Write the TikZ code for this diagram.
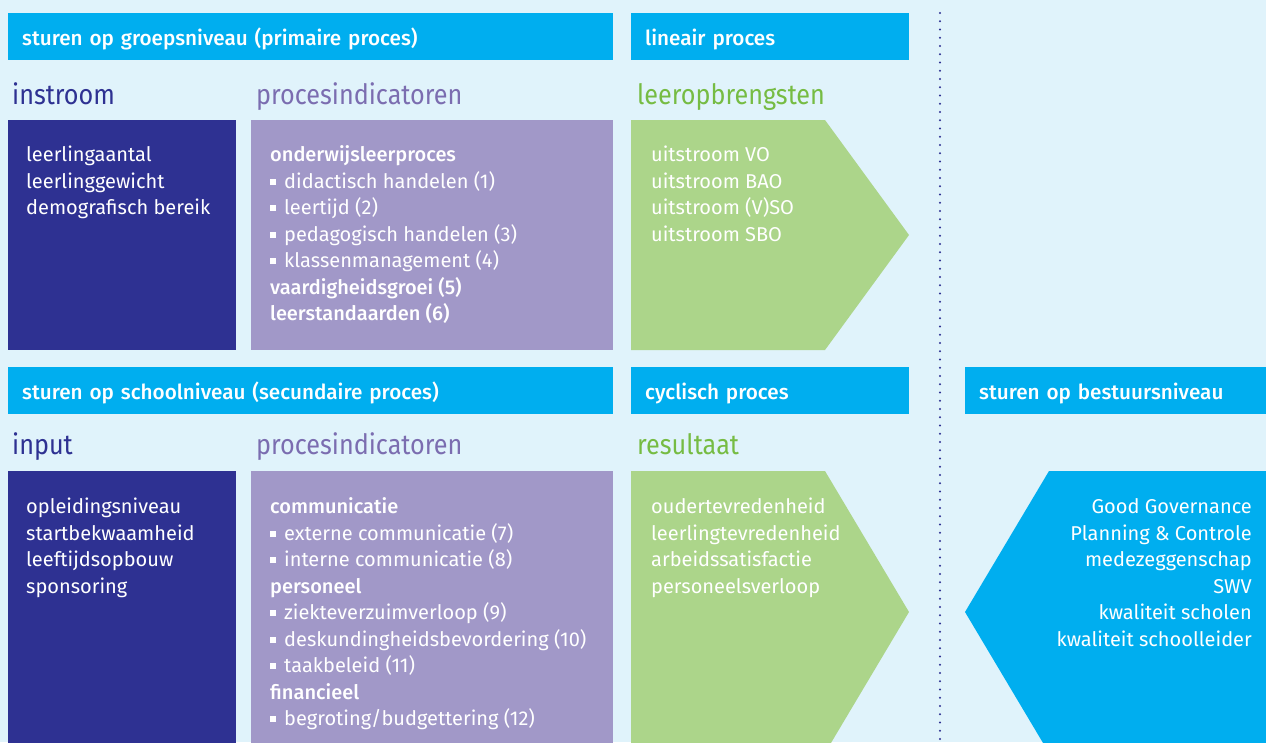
\documentclass[tikz,border=0pt]{standalone}
\usepackage{fontspec}
\setmainfont{Fira Sans}[BoldFont={Fira Sans Medium}]
\newfontfamily\labelfamilie{Fira Sans}[FakeStretch=0.9]
\usetikzlibrary{positioning}

\definecolor{achtergrond}{HTML}{E0F3FB}
\definecolor{kopblauw}{HTML}{00AEEF}
\definecolor{marine}{HTML}{2E3192}
\definecolor{paars}{HTML}{A198C8}
\definecolor{paarstekst}{HTML}{7B6DB0}
\definecolor{groen}{HTML}{ACD58A}
\definecolor{groentekst}{HTML}{76BC43}

\newcommand{\kopfont}{\bfseries\fontsize{20.7}{22}\selectfont}
\newcommand{\labelfont}{\labelfamilie\fontsize{28}{30}\selectfont}
\newcommand{\tekstfont}{\fontsize{20}{26}\selectfont}
\newcommand{\blok}{\rule[3.3pt]{6pt}{6pt}\hspace{8pt}}

\begin{document}
\begin{tikzpicture}[x=1pt,y=-1pt,
  kop/.style={fill=kopblauw, text=white, font=\kopfont, anchor=north west,
    inner sep=0pt, inner xsep=14pt, minimum height=47pt,
    text height=18pt, text depth=0pt, align=left},
  label/.style={anchor=base west, font=\labelfont, inner sep=0pt},
  vlak/.style={anchor=north west, inner sep=0pt},
  regel/.style={anchor=base west, font=\tekstfont, text=white, inner sep=0pt}]
\clip (0,0) rectangle (1266,742);
\fill[achtergrond] (0,0) rectangle (1266,742);

% koppen
\node[kop, text width=577pt] (kopgroep) at (8,13) {sturen op groepsniveau (primaire proces)};
\node[kop, text width=250pt] (koplineair) at (631,13) {lineair proces};
\node[kop, text width=577pt] (kopschool) at (8,367) {sturen op schoolniveau (secundaire proces)};
\node[kop, text width=250pt] (kopcyclisch) at (631,367) {cyclisch proces};
\node[kop, text width=273pt] (kopbestuur) at (965,367) {sturen op bestuursniveau};

% scheidingslijn
\draw[marine, line width=2.4pt, line cap=round, dash pattern=on 0pt off 8.25pt] (940,13) -- (940,742);

% groepsniveau
\node[label, text=marine] (instroom) at (12,104) {instroom};
\node[label, text=paarstekst] (proces1) at (256,104) {procesindicatoren};
\node[label, text=groentekst] (opbrengst) at (637,104) {leeropbrengsten};
\node[vlak, fill=marine, minimum width=228pt, minimum height=230pt] (instroomvlak) at (8,120) {};
\node[vlak, fill=paars, minimum width=362pt, minimum height=230pt] (proces1vlak) at (251,120) {};
\fill[groen] (631,120) -- (825,120) -- (909,235) -- (825,350) -- (631,350) -- cycle;

\foreach \t [count=\i from 0] in {leerlingaantal, leerlinggewicht, demografisch bereik}
  \node[regel] (instroom-\i) at (26,161.5+26.5*\i) {\t};
\foreach \t [count=\i from 0] in {\textbf{onderwijsleerproces}, \blok didactisch handelen (1),
    \blok leertijd (2), \blok pedagogisch handelen (3), \blok klassenmanagement (4),
    \textbf{vaardigheidsgroei (5)}, \textbf{leerstandaarden (6)}}
  \node[regel] (proces1-\i) at (270,161.5+26.5*\i) {\t};
\foreach \t [count=\i from 0] in {uitstroom VO, uitstroom BAO, uitstroom (V)SO, uitstroom SBO}
  \node[regel] (opbrengst-\i) at (651,161.5+26.5*\i) {\t};

% schoolniveau
\node[label, text=marine] (input) at (12,454) {input};
\node[label, text=paarstekst] (proces2) at (256,454) {procesindicatoren};
\node[label, text=groentekst] (resultaat) at (637,454) {resultaat};
\node[vlak, fill=marine, minimum width=228pt, minimum height=280pt] (inputvlak) at (8,471) {};
\node[vlak, fill=paars, minimum width=362pt, minimum height=280pt] (proces2vlak) at (251,471) {};
\fill[groen] (631,471) -- (825,471) -- (909,612) -- (825,753) -- (631,753) -- cycle;

\foreach \t [count=\i from 0] in {opleidingsniveau, startbekwaamheid, leeftijdsopbouw, sponsoring}
  \node[regel] (input-\i) at (26,513.5+26.5*\i) {\t};
\foreach \t [count=\i from 0] in {\textbf{communicatie}, \blok externe communicatie (7),
    \blok interne communicatie (8), \textbf{personeel}, \blok ziekteverzuimverloop (9),
    \blok deskundingheidsbevordering (10), \blok taakbeleid (11), \textbf{financieel},
    \blok begroting/budgettering (12)}
  \node[regel] (proces2-\i) at (270,513.5+26.5*\i) {\t};
\foreach \t [count=\i from 0] in {oudertevredenheid, leerlingtevredenheid, arbeidssatisfactie, personeelsverloop}
  \node[regel] (resultaat-\i) at (651,513.5+26.5*\i) {\t};

% bestuursniveau
\fill[kopblauw] (1266,471) -- (1049,471) -- (965,612) -- (1049,753) -- (1266,753) -- cycle;
\foreach \t [count=\i from 0] in {Good Governance, Planning \& Controle, medezeggenschap, SWV,
    kwaliteit scholen, kwaliteit schoolleider}
  \node[regel, anchor=base east] (bestuur-\i) at (1252,513.5+26.5*\i) {\t};
\end{tikzpicture}
\end{document}
